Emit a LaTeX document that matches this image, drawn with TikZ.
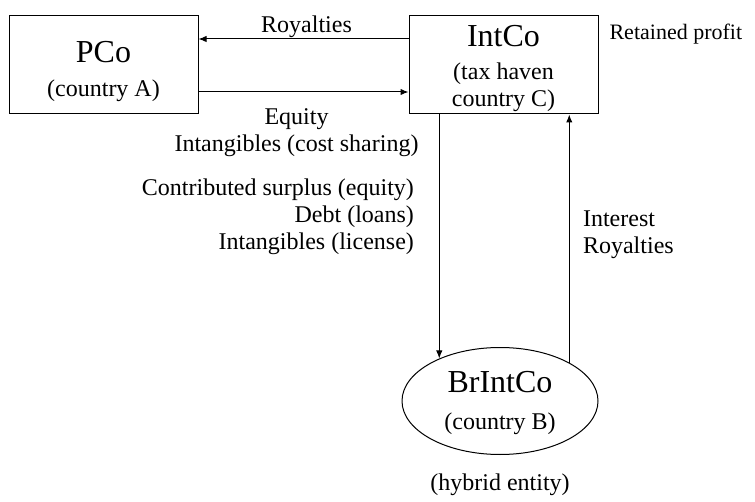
\documentclass[tikz,border=0pt]{standalone}
\usepackage{fontspec}
\setmainfont{Liberation Serif}
\usetikzlibrary{positioning,shapes.geometric,arrows.meta}
\begin{document}
\begin{tikzpicture}[x=0.5pt, y=-0.5pt,
    every node/.style={font=\fontsize{12}{13.5}\selectfont},
    firm/.style={rectangle, draw, line width=0.5pt, minimum width=94.5pt, minimum height=49pt, align=center, inner ysep=1pt},
    branch/.style={ellipse, draw, line width=0.5pt, minimum width=98pt, minimum height=53.5pt, align=center, inner sep=1pt},
    flow/.style={line width=0.5pt, -{Latex[length=4pt, width=3.2pt]}}]

    \useasboundingbox (0,0) rectangle (755,502);

    \node[firm] (pco) at (103.5,65) {{\fontsize{16}{17}\selectfont\rule{0pt}{17pt}PCo}\\[3.5pt](country A)};
    \node[firm] (intco) at (503.5,65) {{\fontsize{16}{17}\selectfont\rule{0pt}{14pt}IntCo}\\[3pt](tax haven\\country C)};
    \node[branch] (brintco) at (500,401) {{\fontsize{16}{17}\selectfont\rule{0pt}{13pt}BrIntCo}\\[5pt](country B)};

    \node[anchor=west, right=2pt of intco.north east, yshift=-9.5pt, font=\fontsize{11}{12}\selectfont] (retained) {Retained profit};
    \node[below=6pt of brintco] (hybrid) {(hybrid entity)};

    \draw[flow] ([yshift=13pt]intco.west) -- node[above=-3pt, xshift=1.5pt] (royalties) {Royalties} ([yshift=13pt]pco.east);
    \draw[flow] ([yshift=-13.5pt]pco.east) -- node[below=4.5pt, align=center, xshift=-3.5pt] (equity) {Equity\\Intangibles (cost sharing)} ([yshift=-13.5pt]intco.west);

    \draw[flow] (intco.south -| brintco.145) -- (brintco.145);
    \draw[flow] (brintco.29) -- (intco.south -| brintco.29);

    \node[anchor=east, align=right] (funding) at (421,216.5) {Contributed surplus (equity)\\Debt (loans)\\Intangibles (license)};
    \node[anchor=west, align=left] (returns) at (576,234.5) {Interest\\Royalties};

\end{tikzpicture}
\end{document}
